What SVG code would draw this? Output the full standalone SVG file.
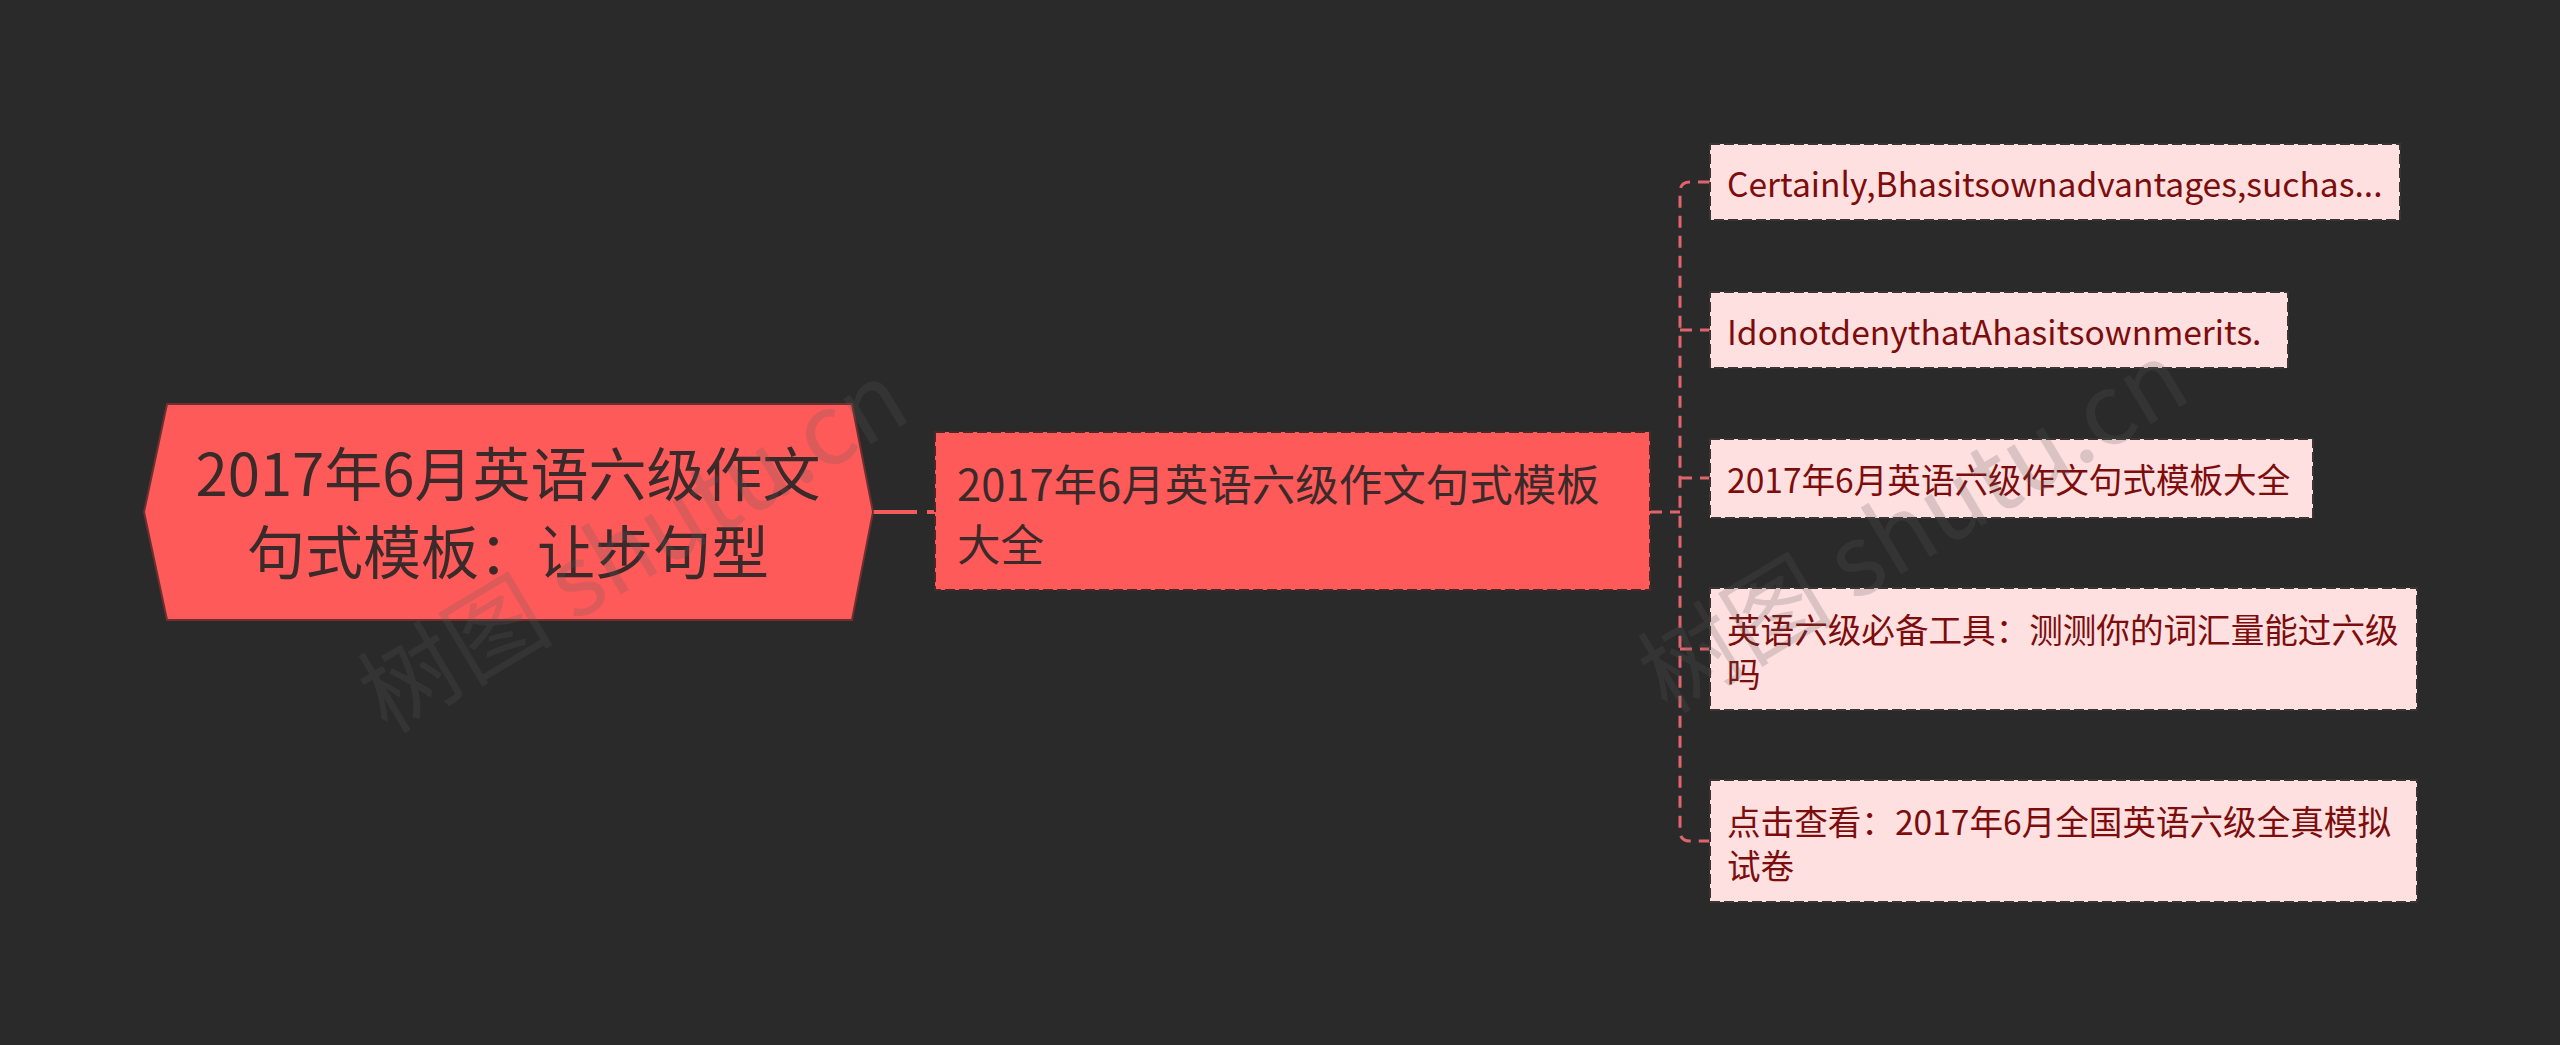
<svg xmlns="http://www.w3.org/2000/svg" width="2560" height="1045" viewBox="0 0 2560 1045">
<defs>
<style>
text{font-family:"Noto Sans CJK SC","Noto Sans",sans-serif;dominant-baseline:central}
.rootbox{fill:#ff5a5a;stroke:#6e2f2f;stroke-width:2}
.rootText{fill:#3a2a2a;font-size:58px;text-anchor:middle}
.midbox{fill:#ff5a5a;stroke:#4a2828;stroke-width:2;stroke-dasharray:10 4}
.midText{fill:#3a2a2a;font-size:43.5px}
.leafbox{fill:#ffe0e0;stroke:#3a3434;stroke-width:2;stroke-dasharray:10 4}
.leafText{fill:#7d0d0d;font-size:33.6px}
.link1{fill:none;stroke:#f25c5c;stroke-width:4;stroke-dasharray:44 10}
.link2{fill:none;stroke:#e0646c;stroke-width:3;stroke-dasharray:12 8}
.wm{fill:#5a5a5a;fill-opacity:0.22;font-size:98px}
</style>
</defs>
<rect x="0" y="0" width="2560" height="1045" fill="#2a2a2a"/>
<g id="connectors">
<path class="link1" d="M873 512 H935"/>
<path class="link2" d="M1650 512 H1680"/>
<path class="link2" d="M1710 182 H1690 Q1680 182 1680 192 V831 Q1680 841 1690 841 H1710"/>
<path class="link2" d="M1680 330 H1710"/>
<path class="link2" d="M1680 478 H1710"/>
<path class="link2" d="M1680 649 H1710"/>
</g>
<g id="node-root">
<polygon class="rootbox" points="144,512 167,404 852,404 873,512 852,620 167,620"/>
<text class="rootText" x="508" y="471">2017年6月英语六级作文</text>
<text class="rootText" x="508" y="549">句式模板：让步句型</text>
</g>
<g id="node-mid">
<rect class="midbox" x="935" y="432" width="715" height="158"/>
<text class="midText" x="957" y="482">2017年6月英语六级作文句式模板</text>
<text class="midText" x="957" y="542">大全</text>
</g>
<g id="leaf-1">
<rect class="leafbox" x="1710" y="144" width="690" height="76"/>
<text class="leafText" x="1727" y="182">Certainly,Bhasitsownadvantages,suchas...</text>
</g>
<g id="leaf-2">
<rect class="leafbox" x="1710" y="292" width="578" height="76"/>
<text class="leafText" x="1727" y="330">IdonotdenythatAhasitsownmerits.</text>
</g>
<g id="leaf-3">
<rect class="leafbox" x="1710" y="439" width="603" height="79"/>
<text class="leafText" x="1727" y="478">2017年6月英语六级作文句式模板大全</text>
</g>
<g id="leaf-4">
<rect class="leafbox" x="1710" y="588" width="707" height="122"/>
<text class="leafText" x="1727" y="628">英语六级必备工具：测测你的词汇量能过六级</text>
<text class="leafText" x="1727" y="672">吗</text>
</g>
<g id="leaf-5">
<rect class="leafbox" x="1710" y="780" width="707" height="122"/>
<text class="leafText" x="1727" y="820">点击查看：2017年6月全国英语六级全真模拟</text>
<text class="leafText" x="1727" y="864">试卷</text>
</g>
<g id="watermark">
<text class="wm" x="365" y="698" transform="rotate(-31 365 698)">树图 shutu.cn</text>
<text class="wm" x="1645" y="678" transform="rotate(-31 1645 678)">树图 shutu.cn</text>
</g>
</svg>
